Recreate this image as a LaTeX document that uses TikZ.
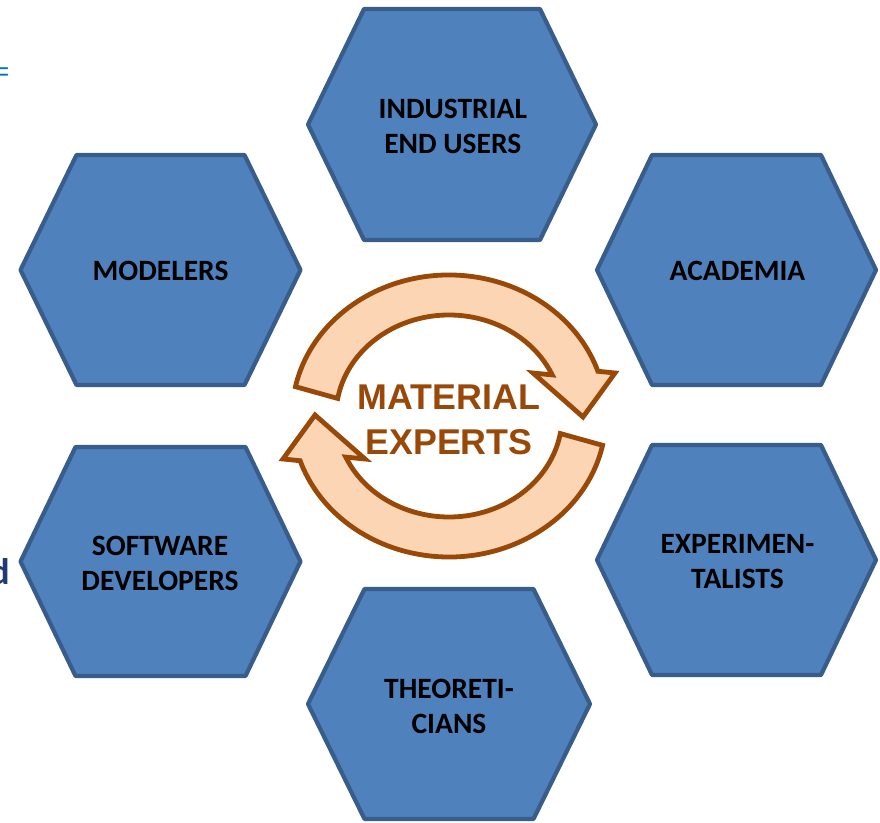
\documentclass[tikz,border=0pt]{standalone}
\usepackage{fontspec}
\setmainfont{Carlito}
\newfontfamily\arialfont{Liberation Sans}
\definecolor{hexfill}{HTML}{4F81BD}
\definecolor{hexline}{HTML}{385D8A}
\definecolor{arrowfill}{HTML}{FCD5B5}
\definecolor{arrowline}{HTML}{984807}
\definecolor{navytext}{HTML}{1F3B73}
\definecolor{bluetext}{HTML}{0070C0}
\tikzset{
  hexshape/.style={fill=hexfill, draw=hexline, line width=4.2pt, line join=round},
  hexlabel/.style={font=\bfseries\fontsize{29.5}{35}\selectfont, align=center, text=black, inner sep=0pt},
  arrowshape/.style={fill=arrowfill, draw=arrowline, line width=4.8pt, line join=miter},
  centerlabel/.style={font=\arialfont\bfseries\fontsize{35.8}{45}\selectfont, align=center, text=arrowline, inner sep=0pt}
}
% cx, cy, half width, half height, half top edge
\newcommand{\myhexagon}[5]{%
  \path[hexshape] (#1-#3,#2) -- (#1-#5,#2+#4) -- (#1+#5,#2+#4) -- (#1+#3,#2)
    -- (#1+#5,#2-#4) -- (#1-#5,#2-#4) -- cycle;}
\newcommand{\myarrowpath}{%
  (168:157 and 141) arc[start angle=168, end angle=18.5, x radius=157, y radius=141]
  -- (166,43) -- (134,-1) -- (84,43) -- (24:113 and 101)
  arc[start angle=24, end angle=170, x radius=113, y radius=101] -- cycle}
\begin{document}
\begin{tikzpicture}[x=1pt, y=1pt]
\useasboundingbox (0,0) rectangle (880,822);

% hexagons
\myhexagon{452}{697.5}{144}{115.5}{88}
\myhexagon{160.5}{552}{140}{115}{84}
\myhexagon{736.5}{552}{139.5}{115}{84.5}
\myhexagon{160.5}{260.5}{140}{114.5}{85}
\myhexagon{736.5}{262}{139.5}{115}{84.5}
\myhexagon{449}{118}{141}{115}{84.5}

\node[hexlabel] (industrial) at (452.8,695.5) {INDUSTRIAL\\END USERS};
\node[hexlabel] (modelers) at (160.5,551) {MODELERS};
\node[hexlabel] (academia) at (737.5,551) {ACADEMIA};
\node[hexlabel] (software) at (160,258.5) {SOFTWARE\\DEVELOPERS};
\node[hexlabel] (experimentalists) at (737.5,260.5) {EXPERIMEN-\\TALISTS};
\node[hexlabel] (theoreticians) at (449,116) {THEORETI-\\CIANS};

% circular arrows
\begin{scope}[shift={(449,406)}]
  \path[arrowshape] \myarrowpath;
  \begin{scope}[rotate=180]
    \path[arrowshape] \myarrowpath;
  \end{scope}
\end{scope}

\node[centerlabel] (experts) at (449,402) {MATERIAL\\EXPERTS};

% cropped fragments at the left edge (cut off in the reference as well)
\node[anchor=base east, inner sep=0pt, text=bluetext, font=\arialfont\fontsize{26}{30}\selectfont] (eqfrag) at (9.5,741.5) {=};
\node[anchor=base east, inner sep=0pt, text=navytext, font=\bfseries\fontsize{37}{40}\selectfont] (dfrag) at (10,237) {d};
\end{tikzpicture}
\end{document}
